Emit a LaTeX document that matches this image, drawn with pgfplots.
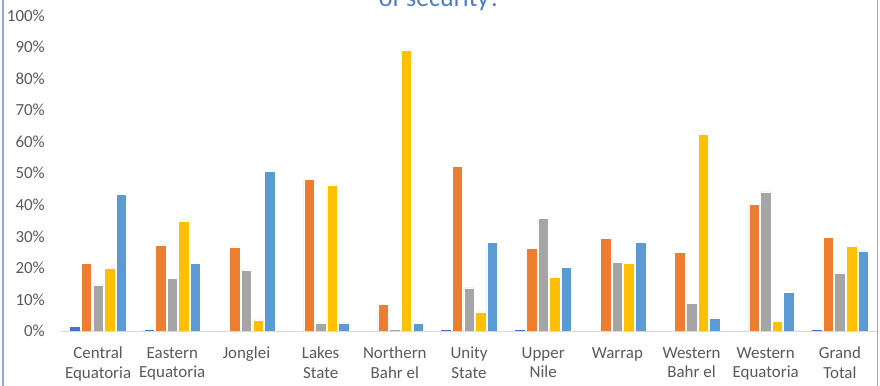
\documentclass[border=0pt]{standalone}
\usepackage{pgfplots}
\pgfplotsset{compat=1.18}
\usepackage{fontspec}
\setmainfont{Carlito}
\definecolor{sA}{HTML}{4472C4}
\definecolor{sB}{HTML}{ED7D31}
\definecolor{sC}{HTML}{A5A5A5}
\definecolor{sD}{HTML}{FFC000}
\definecolor{sE}{HTML}{5B9BD5}
\definecolor{txt}{HTML}{595959}
\definecolor{ttl}{HTML}{4A7CCB}
\definecolor{frm}{HTML}{8EA9DB}
\definecolor{axl}{HTML}{D9D9D9}
\begin{document}
\begin{tikzpicture}
\path[use as bounding box, clip] (0bp,0bp) rectangle (880bp,386bp);
\draw[frm, line width=1.2bp] (3bp,0bp) -- (3bp,386bp);
\draw[frm, line width=1.2bp] (877.5bp,0bp) -- (877.5bp,386bp);
\node[anchor=base, text=ttl, font=\fontsize{26}{30}\selectfont, inner sep=0pt] at (440bp,379.5bp) {of security?};
\begin{axis}[
  at={(61bp,55bp)}, anchor=south west,
  scale only axis, width=816bp, height=315.5bp,
  xmin=-0.5, xmax=10.5, ymin=0, ymax=100,
  ybar,
  axis lines*=left,
  y axis line style={draw=none},
  x axis line style={draw=axl, line width=1bp},
  major tick length=0pt,
  xtick={0,1,2,3,4,5,6,7,8,9,10},
  xticklabels={{Central\\Equatoria},{Eastern\\Equatoria},{Jonglei},{Lakes\\State},{Northern\\Bahr el},{Unity\\State},{Upper\\Nile},{Warrap},{Western\\Bahr el},{Western\\Equatoria},{Grand\\Total}},
  xticklabel style={align=center, anchor=north, inner sep=0pt, yshift=-16bp, text=txt, font=\fontsize{17}{19.5}\selectfont},
  ytick={0,10,20,30,40,50,60,70,80,90,100},
  yticklabels={0\%,10\%,20\%,30\%,40\%,50\%,60\%,70\%,80\%,90\%,100\%},
  yticklabel style={anchor=east, inner sep=0pt, xshift=-16bp, text=txt, font=\fontsize{17}{19.5}\selectfont},
  every axis plot/.append style={bar width=10.5bp, draw=white, line width=0.5bp},
]
\addplot[fill=sA, bar shift=-23.2bp] coordinates {(0,1.4) (1,0.5) (5,0.5) (6,0.5) (10,0.5)};
\addplot[fill=sB, bar shift=-11.6bp] coordinates {(0,21.5) (1,27.1) (2,26.7) (3,48.0) (4,8.4) (5,52.1) (6,26.2) (7,29.3) (8,24.9) (9,40.2) (10,29.7)};
\addplot[fill=sC, bar shift=0bp] coordinates {(0,14.6) (1,16.7) (2,19.4) (3,2.6) (4,0.5) (5,13.7) (6,35.8) (7,21.9) (8,8.8) (9,44.1) (10,18.4)};
\addplot[fill=sD, bar shift=11.6bp] coordinates {(0,19.8) (1,34.9) (2,3.5) (3,46.3) (4,89.1) (5,6.1) (6,17.0) (7,21.5) (8,62.4) (9,3.1) (10,26.8)};
\addplot[fill=sE, bar shift=23.2bp] coordinates {(0,43.4) (1,21.5) (2,50.7) (3,2.6) (4,2.3) (5,28.0) (6,20.2) (7,28.0) (8,3.9) (9,12.3) (10,25.4)};
\end{axis}
\end{tikzpicture}
\end{document}
